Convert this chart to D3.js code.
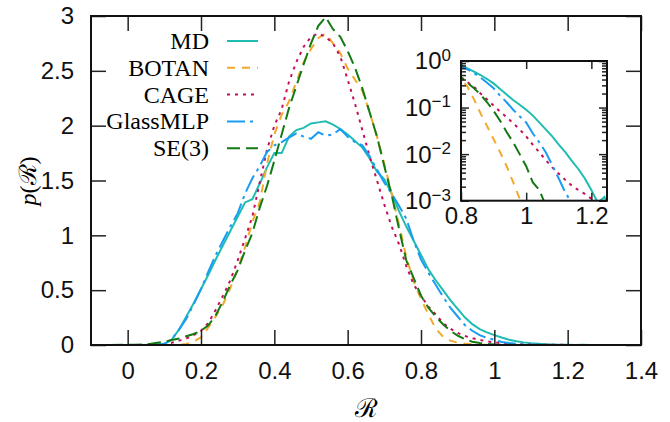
<!DOCTYPE html>
<html>
<head>
<meta charset="utf-8">
<script src="https://cdn.jsdelivr.net/npm/d3@7"></script>
<style>
  body { margin: 0; background: #fff; }
  svg { font-family: "Liberation Serif", "DejaVu Serif", serif; }
</style>
</head>
<body>
<svg id="chart" width="670" height="422"></svg>
<script>
// R grid shared by every series
const rValues = [-0.10, 0.00, 0.02, 0.04, 0.06, 0.08, 0.10, 0.12, 0.14, 0.16, 0.18, 0.20, 0.22, 0.24, 0.26, 0.28,
  0.30, 0.32, 0.34, 0.36, 0.38, 0.40, 0.42, 0.44, 0.46, 0.48, 0.50, 0.52, 0.54, 0.56, 0.58, 0.60, 0.62, 0.64,
  0.66, 0.68, 0.70, 0.72, 0.74, 0.76, 0.78, 0.80, 0.82, 0.84, 0.86, 0.88, 0.90, 0.92, 0.94, 0.96, 0.98, 1.00,
  1.02, 1.04, 1.06, 1.08, 1.10, 1.12, 1.14, 1.16, 1.18, 1.20, 1.22, 1.24, 1.26];

const mdValues = [0, 0, 0, 0, 0.002, 0.004, 0.01, 0.05, 0.14, 0.26, 0.38, 0.51, 0.64, 0.78, 0.91, 1.04,
  1.17, 1.30, 1.33, 1.47, 1.62, 1.75, 1.75, 1.90, 1.96, 1.98, 2.02, 2.03, 2.04, 2.01, 1.97, 1.92, 1.86, 1.80,
  1.70, 1.58, 1.51, 1.38, 1.22, 1.08, 0.95, 0.82, 0.69, 0.59, 0.50, 0.41, 0.33, 0.25, 0.19, 0.145, 0.115, 0.09,
  0.068, 0.048, 0.034, 0.024, 0.016, 0.011, 0.0072, 0.0048, 0.003, 0.0017, 0.0009, 0.0012, 0.0006];

const botanValues = [0, 0, 0, 0, 0, 0, 0, 0, 0, 0.01, 0.03, 0.07, 0.16, 0.26, 0.37, 0.52,
  0.69, 0.89, 1.12, 1.30, 1.65, 1.92, 2.10, 2.22, 2.40, 2.58, 2.70, 2.80, 2.84, 2.75, 2.66, 2.52, 2.42, 2.32,
  2.12, 1.90, 1.65, 1.38, 1.10, 0.80, 0.58, 0.42, 0.28, 0.15, 0.075, 0.040, 0.021, 0.011, 0.0055, 0.0025, 0.0011, 0.0004,
  0, 0, 0, 0, 0, 0, 0, 0, 0, 0, 0, 0, 0];

const cageValues = [0, 0, 0, 0, 0.002, 0.005, 0.01, 0.02, 0.04, 0.06, 0.09, 0.13, 0.20, 0.32, 0.45, 0.59,
  0.77, 0.97, 1.17, 1.48, 1.78, 2.00, 2.15, 2.40, 2.58, 2.72, 2.81, 2.84, 2.81, 2.75, 2.63, 2.42, 2.20, 1.96,
  1.72, 1.50, 1.28, 1.08, 0.92, 0.72, 0.55, 0.45, 0.35, 0.28, 0.20, 0.15, 0.11, 0.082, 0.062, 0.046, 0.034, 0.024,
  0.016, 0.011, 0.0075, 0.0052, 0.0038, 0.0028, 0.0021, 0.0017, 0.0014, 0.0011, 0.0007, 0.0003, 0];

const glassValues = [0, 0, 0, 0, 0.001, 0.003, 0.01, 0.05, 0.14, 0.24, 0.37, 0.51, 0.67, 0.82, 0.95, 1.08,
  1.20, 1.38, 1.52, 1.63, 1.76, 1.82, 1.85, 1.89, 1.93, 1.90, 1.88, 1.94, 1.91, 1.92, 1.97, 1.90, 1.85, 1.82,
  1.72, 1.60, 1.48, 1.38, 1.27, 1.15, 0.95, 0.78, 0.66, 0.55, 0.44, 0.34, 0.26, 0.18, 0.13, 0.09, 0.065, 0.048,
  0.028, 0.018, 0.011, 0.0058, 0.003, 0.0015, 0.0009, 0.0004, 0.0002, 0.0001, 0, 0, 0];

const se3Values = [0, 0.002, 0.003, 0.005, 0.01, 0.02, 0.03, 0.045, 0.06, 0.08, 0.10, 0.13, 0.18, 0.27, 0.40, 0.55,
  0.68, 0.86, 1.02, 1.25, 1.45, 1.68, 1.92, 2.16, 2.36, 2.56, 2.75, 2.91, 2.99, 2.88, 2.81, 2.68, 2.53, 2.34,
  2.12, 1.90, 1.63, 1.37, 1.06, 0.77, 0.61, 0.45, 0.34, 0.26, 0.19, 0.13, 0.085, 0.052, 0.030, 0.018, 0.010, 0.0055,
  0.0025, 0.0017, 0.0008, 0.0003, 0, 0, 0, 0, 0, 0, 0, 0, 0];

const seriesNames = ["MD", "BOTAN", "CAGE", "GlassMLP", "SE(3)"];
const seriesValues = [mdValues, botanValues, cageValues, glassValues, se3Values];
const seriesColors = ["#1fbdb1", "#f2a82a", "#c4105c", "#1a9cf5", "#137a13"];
const seriesDashes = [null, "8,7", "3,5", "18,5,3,5", "13,6"];

const xTicks = [0, 0.2, 0.4, 0.6, 0.8, 1, 1.2, 1.4];
const yTicks = [0, 0.5, 1, 1.5, 2, 2.5, 3];
const insetXTicks = [0.8, 1, 1.2];
const insetYTicks = [1e-3, 1e-2, 1e-1, 1];

const svg = d3.select("#chart");

const x = d3.scaleLinear().domain([-0.1, 1.4]).range([91, 641]);
const y = d3.scaleLinear().domain([0, 3]).range([345, 16]);

const series = seriesNames.map((name, i) => ({
  name: name,
  color: seriesColors[i],
  dash: seriesDashes[i],
  points: rValues.map((r, j) => ({ r: r, p: seriesValues[i][j] }))
}));

svg.append("clipPath").attr("id", "mainClip")
  .append("rect")
  .attr("x", 91).attr("y", 16).attr("width", 550).attr("height", 329);

// main curves
const line = d3.line().x(d => x(d.r)).y(d => y(d.p));
svg.append("g").attr("clip-path", "url(#mainClip)")
  .selectAll("path")
  .data(series).enter()
  .append("path")
  .attr("d", d => line(d.points))
  .attr("fill", "none")
  .attr("stroke", d => d.color)
  .attr("stroke-width", 2)
  .attr("stroke-dasharray", d => d.dash);

// axes of main plot
function styleAxis(g) {
  g.select(".domain").remove();
  g.selectAll(".tick line").attr("stroke", "#222").attr("stroke-width", 1.5);
  g.selectAll("text").attr("fill", "#111").style("font-size", "24px");
}

svg.append("g").attr("transform", "translate(0,345)")
  .call(d3.axisBottom(x).tickValues(xTicks).tickSize(-15).tickPadding(17).tickFormat(d3.format("~g")))
  .call(styleAxis);
svg.append("g").attr("transform", "translate(0,16)")
  .call(d3.axisTop(x).tickValues(xTicks).tickSize(-15).tickFormat(""))
  .call(styleAxis);
svg.append("g").attr("transform", "translate(91,0)")
  .call(d3.axisLeft(y).tickValues(yTicks).tickSize(-15).tickPadding(17).tickFormat(d3.format("~g")))
  .call(styleAxis);
svg.append("g").attr("transform", "translate(641,0)")
  .call(d3.axisRight(y).tickValues(yTicks).tickSize(-15).tickFormat(""))
  .call(styleAxis);

svg.append("rect")
  .attr("x", 91).attr("y", 16).attr("width", 550).attr("height", 329)
  .attr("fill", "none").attr("stroke", "#111").attr("stroke-width", 2);

// axis titles
svg.append("text")
  .attr("x", 366).attr("y", 417)
  .attr("text-anchor", "middle")
  .style("font-size", "26px")
  .text("ℛ");

const yTitle = svg.append("text")
  .attr("transform", "translate(36,181) rotate(-90)")
  .attr("text-anchor", "middle")
  .style("font-size", "24px");
yTitle.append("tspan").style("font-style", "italic").text("p");
yTitle.append("tspan").text("(ℛ)");

// legend
const legend = svg.append("g");
const legendRows = legend.selectAll("g")
  .data(series).enter()
  .append("g")
  .attr("transform", (d, i) => `translate(0,${41 + i * 26.8})`);
legendRows.append("text")
  .attr("x", 209).attr("dy", "0.33em")
  .attr("text-anchor", "end")
  .style("font-size", "24px")
  .text(d => d.name);
legendRows.append("line")
  .attr("x1", 227).attr("x2", 258)
  .attr("stroke", d => d.color)
  .attr("stroke-width", 2)
  .attr("stroke-dasharray", d => d.dash);

// inset (log scale tail)
const xi = d3.scaleLinear().domain([0.8, 1.248]).range([461, 607]);
const yi = d3.scaleLog().domain([1e-3, 1]).range([200.7, 61]);

svg.append("clipPath").attr("id", "insetClip")
  .append("rect")
  .attr("x", 461).attr("y", 61).attr("width", 146).attr("height", 139.7);

const insetLine = d3.line()
  .defined(d => d.p > 0)
  .x(d => xi(d.r)).y(d => yi(d.p));
svg.append("g").attr("clip-path", "url(#insetClip)")
  .selectAll("path")
  .data(series).enter()
  .append("path")
  .attr("d", d => insetLine(d.points.filter(p => p.r >= 0.78)))
  .attr("fill", "none")
  .attr("stroke", d => d.color)
  .attr("stroke-width", 2)
  .attr("stroke-dasharray", d => d.dash);

// log minor ticks 2..9 of each decade
const minorTicks = [];
[1e-3, 1e-2, 1e-1].forEach(dec => {
  [2, 3, 4, 5, 6, 7, 8, 9].forEach(m => minorTicks.push(dec * m));
});

svg.append("g").attr("transform", "translate(0,200.7)")
  .call(d3.axisBottom(xi).tickValues(insetXTicks).tickSize(-8).tickPadding(6).tickFormat(d3.format("~g")))
  .call(styleAxis);
svg.append("g").attr("transform", "translate(0,61)")
  .call(d3.axisTop(xi).tickValues(insetXTicks).tickSize(-8).tickFormat(""))
  .call(styleAxis);

const insetLeft = svg.append("g").attr("transform", "translate(461,0)")
  .call(d3.axisLeft(yi).tickValues(insetYTicks).tickSize(-8).tickPadding(10).tickFormat(""))
  .call(styleAxis);
svg.append("g").attr("transform", "translate(461,0)")
  .call(d3.axisLeft(yi).tickValues(minorTicks).tickSize(-5).tickFormat(""))
  .call(styleAxis);
svg.append("g").attr("transform", "translate(607,0)")
  .call(d3.axisRight(yi).tickValues(insetYTicks).tickSize(-8).tickFormat(""))
  .call(styleAxis);
svg.append("g").attr("transform", "translate(607,0)")
  .call(d3.axisRight(yi).tickValues(minorTicks).tickSize(-5).tickFormat(""))
  .call(styleAxis);

// 10^k labels with superscripts
insetLeft.selectAll(".tick").each(function(d) {
  const t = d3.select(this).select("text");
  t.text(null).attr("dy", "0.33em").attr("x", -10);
  t.append("tspan").text("10");
  t.append("tspan")
    .attr("dy", "-0.5em")
    .style("font-size", "17px")
    .text(Math.round(Math.log10(d)).toString().replace("-", "−"));
});

svg.append("rect")
  .attr("x", 461).attr("y", 61).attr("width", 146).attr("height", 139.7)
  .attr("fill", "none").attr("stroke", "#111").attr("stroke-width", 2);
</script>
</body>
</html>
